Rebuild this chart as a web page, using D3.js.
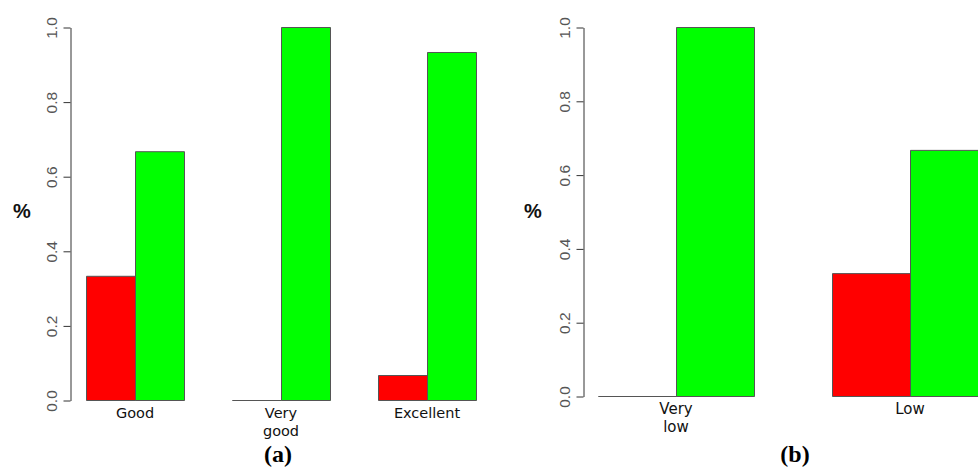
<!DOCTYPE html>
<html>
<head>
<meta charset="utf-8">
<script src="https://cdn.jsdelivr.net/npm/d3@7"></script>
<style>
  html, body { margin: 0; padding: 0; background: #fff; }
  svg { display: block; }
</style>
</head>
<body>
<svg id="chart" width="978" height="467"></svg>
<script>
// ---- data ----
const yTicks = [0.0, 0.2, 0.4, 0.6, 0.8, 1.0];
const seriesNames = ["red", "green"];
const seriesColors = ["#ff0000", "#00ff00"];

const panelACategories = ["Good", "Very\ngood", "Excellent"];
const panelARed   = [0.333, 0.0, 0.067];
const panelAGreen = [0.667, 1.0, 0.933];

const panelBCategories = ["Very\nlow", "Low"];
const panelBRed   = [0.0, 0.333];
const panelBGreen = [1.0, 0.667];

// ---- layout ----
const svg = d3.select("#chart");
const font = "'DejaVu Sans', Verdana, sans-serif";
const tickFont = "'Liberation Sans', Arial, Helvetica, sans-serif";

function drawPanel(cfg) {
  const g = svg.append("g");
  const y = d3.scaleLinear().domain([0, 1]).range([cfg.y0, cfg.y1]);
  const x = d3.scaleBand().domain(cfg.categories)
    .range(cfg.xRange).paddingInner(cfg.pad).paddingOuter(cfg.pad / 2);
  const xs = d3.scaleBand().domain(seriesNames).range([0, x.bandwidth()]).padding(0);

  const rows = cfg.categories.map((c, i) => ({
    cat: c,
    vals: [cfg.red[i], cfg.green[i]]
  }));

  const grp = g.selectAll("g.grp").data(rows).enter().append("g")
    .attr("transform", d => `translate(${x(d.cat)},0)`);
  grp.selectAll("path").data(d => d.vals.map((v, j) => ({ v, s: seriesNames[j], c: seriesColors[j] })))
    .enter().append("path")
    .attr("d", d => {
      const p = d3.path();
      const x0 = xs(d.s) + 0.5, x1 = x0 + xs.bandwidth();
      const yb = y(0) + 0.5, yt = y(d.v) + 0.5;
      p.moveTo(x0, yb); p.lineTo(x0, yt); p.lineTo(x1, yt); p.lineTo(x1, yb); p.closePath();
      return p.toString();
    })
    .attr("fill", d => d.c)
    .attr("stroke", "#555")
    .attr("stroke-width", 1);

  // category labels
  grp.append("text")
    .attr("text-anchor", "middle")
    .attr("font-family", font)
    .attr("font-size", cfg.catSize)
    .attr("fill", "#111")
    .selectAll("tspan").data(d => d.cat.split("\n")).enter().append("tspan")
    .attr("x", x.bandwidth() / 2)
    .attr("y", (d, i) => cfg.y0 + 18 + i * 18)
    .text(d => d);

  // y axis
  const ax = g.append("g")
    .attr("transform", `translate(${cfg.axisX + 0.5},0.5)`)
    .call(d3.axisLeft(y).tickValues(yTicks).tickFormat(d3.format(".1f")).tickSize(7).tickSizeOuter(0));
  ax.select(".domain").attr("stroke", "#333");
  ax.selectAll(".tick line").attr("stroke", "#333");
  ax.selectAll(".tick text")
    .attr("font-family", tickFont)
    .attr("font-size", 15.5)
    .attr("fill", "#555")
    .attr("text-anchor", "middle")
    .attr("transform", "rotate(-90)")
    .attr("x", 0)
    .attr("y", -13.5)
    .attr("dy", 0);

  g.append("text")
    .attr("x", cfg.pctX).attr("y", 218)
    .attr("text-anchor", "middle")
    .attr("font-family", tickFont)
    .attr("font-weight", "bold")
    .attr("font-size", 20)
    .attr("fill", "#111")
    .text("%");

  g.append("text")
    .attr("x", cfg.titleX).attr("y", 462)
    .attr("text-anchor", "middle")
    .attr("font-family", "'Liberation Serif', 'Times New Roman', serif")
    .attr("font-weight", "bold")
    .attr("font-size", 24)
    .attr("fill", "#000")
    .text(cfg.title);
}

drawPanel({
  categories: panelACategories, red: panelARed, green: panelAGreen,
  y0: 400, y1: 27, xRange: [62, 500], pad: 48 / 146,
  axisX: 70, pctX: 22, titleX: 278, title: "(a)", catSize: 14.5
});
drawPanel({
  categories: panelBCategories, red: panelBRed, green: panelBGreen,
  y0: 396, y1: 27, xRange: [559, 1027], pad: 1 / 3,
  axisX: 583, pctX: 533, titleX: 795, title: "(b)", catSize: 15
});
</script>
</body>
</html>
